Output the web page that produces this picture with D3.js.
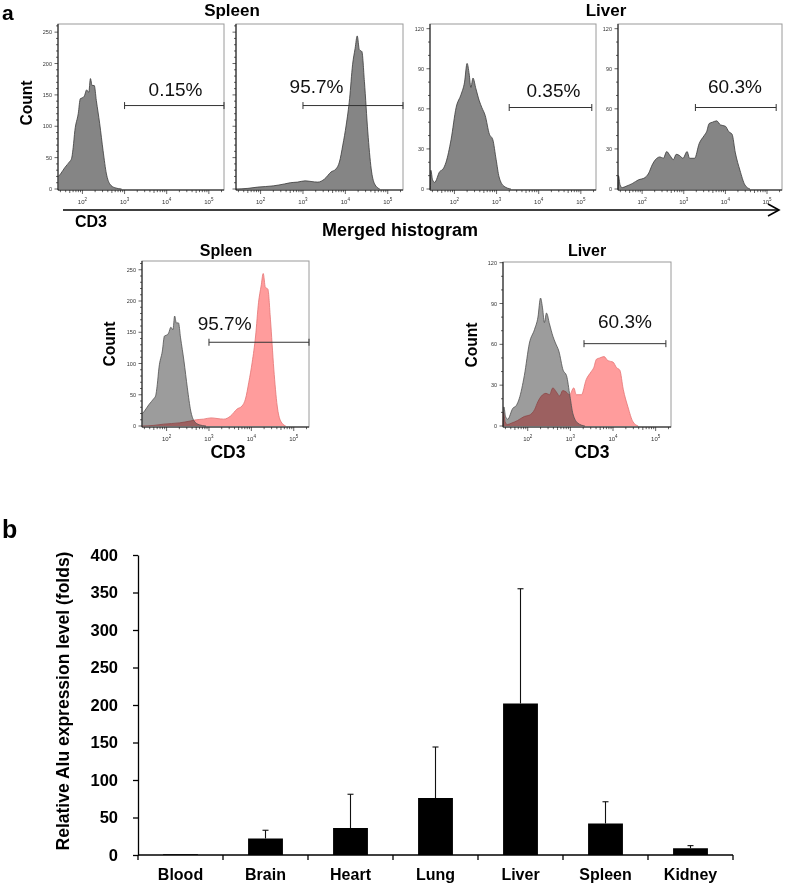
<!DOCTYPE html>
<html><head><meta charset="utf-8">
<script src="https://cdn.jsdelivr.net/npm/d3@7"></script>
<style>body{margin:0;background:#fff}svg{display:block;font-family:"Liberation Sans",Arial,Helvetica,sans-serif}</style>
</head><body><script>
// ---------------- DATA ----------------
// Flow histograms: [log10(CD3 intensity), count]
const spleenIso = [[1.43,20],[1.48,24],[1.58,34],[1.70,44],[1.74,48],[1.78,66],[1.82,93],[1.90,120],[1.95,144],[2.02,146],[2.05,149],[2.10,158],[2.15,154],[2.19,176],[2.23,165],[2.28,165],[2.33,141],[2.41,104],[2.49,61],[2.57,24],[2.65,8],[2.77,2],[2.93,0]];
const spleenCD3 = [[1.42,0],[1.70,1],[1.93,3],[2.30,5],[2.56,8],[2.70,10],[2.87,11],[3.05,13],[3.19,12],[3.35,11],[3.51,16],[3.66,27],[3.78,32],[3.86,43],[3.94,70],[4.02,102],[4.10,144],[4.17,198],[4.23,224],[4.28,244],[4.33,222],[4.39,219],[4.45,171],[4.53,91],[4.61,32],[4.69,8],[4.81,0]];
const liverIso = [[1.43,0],[1.44,14],[1.48,7],[1.53,5],[1.65,13],[1.73,15],[1.80,20],[1.92,37],[2.04,61],[2.16,71],[2.24,80],[2.30,94],[2.35,86],[2.39,76],[2.44,83],[2.51,75],[2.59,66],[2.65,61],[2.73,55],[2.83,41],[2.91,37],[2.99,22],[3.06,9],[3.18,2],[3.34,0]];
const liverCD3 = [[1.42,0],[1.43,10],[1.47,3],[1.52,1],[1.61,2],[1.76,4],[1.92,7],[2.04,8],[2.16,12],[2.24,18],[2.32,22],[2.43,24],[2.51,23],[2.59,28],[2.67,25],[2.75,22],[2.82,26],[2.90,25],[2.98,23],[3.08,28],[3.14,23],[3.26,23],[3.37,34],[3.49,40],[3.55,43],[3.61,49],[3.69,50],[3.79,51],[3.88,48],[4.00,47],[4.08,43],[4.16,41],[4.24,27],[4.35,14],[4.47,3],[4.59,0]];

const decadeTicks = [2, 3, 4, 5];
const spleenCountTicks = [0, 50, 100, 150, 200, 250];
const liverCountTicks = [0, 30, 60, 90, 120];

const gatePct = ["0.15%", "95.7%", "0.35%", "60.3%", "95.7%", "60.3%"];
const gateStart = [3.0, 3.0, 3.3, 3.28, 3.0, 3.32];
const gateEnd = [5.36, 5.36, 5.26, 5.22, 5.36, 5.24];
const gateCount = [133, 133, 61, 61, 134, 60.5];
const pctLabelX = [4.21, 3.32, 4.35, 4.23, 3.37, 4.28];

// Bar chart
const organs = ["Blood", "Brain", "Heart", "Lung", "Liver", "Spleen", "Kidney"];
const aluMean = [1, 22, 36, 76, 202, 42, 9];
const aluErr = [0, 11, 45, 68, 153, 29, 3.5];
const aluTicks = [0, 50, 100, 150, 200, 250, 300, 350, 400];

// ---------------- DRAW ----------------
const svg = d3.select("body").append("svg").attr("width", 786).attr("height", 884);

const GRAY = {fill: "#858585", stroke: "#3a3a3a"};
const MGRAY = {fill: "#9c9c9c", stroke: "#505050", blend: "multiply"};
const MRED = {fill: "#ff9c9c", stroke: "#e57373"};

function histPanel(cfg) {
  const {x0, x1, y0, y1, yMax, yTicks, minorStep, showYLabels, series, gi, pctDy} = cfg;
  const g = svg.append("g");
  const x = d3.scaleLinear().domain([1.42, 5.36]).range([x0, x1]);
  const y = d3.scaleLinear().domain([0, yMax]).range([y1 - 1, y0]);
  g.append("rect").attr("x", x0).attr("y", y0).attr("width", x1 - x0).attr("height", y1 - y0)
    .attr("fill", "none").attr("stroke", "#9a9a9a").attr("stroke-width", 1);
  const area = d3.area().x(d => x(d[0])).y0(y(0)).y1(d => y(d[1])).curve(d3.curveMonotoneX);
  const line = d3.line().x(d => x(d[0])).y(d => y(d[1])).curve(d3.curveMonotoneX);
  series.forEach(s => {
    const p = g.append("path").datum(s.data).attr("d", area).attr("fill", s.style.fill);
    if (s.style.blend) p.style("mix-blend-mode", s.style.blend);
    g.append("path").datum(s.data).attr("d", line).attr("fill", "none")
      .attr("stroke", s.style.stroke).attr("stroke-width", 0.8);
  });
  g.append("line").attr("x1", x0).attr("x2", x1).attr("y1", y1).attr("y2", y1).attr("stroke", "#111").attr("stroke-width", 1);
  g.append("line").attr("x1", x0).attr("x2", x0).attr("y1", y0).attr("y2", y1).attr("stroke", "#111").attr("stroke-width", 1);
  for (let k = 1; k <= 5; k++) {
    for (let m = 1; m <= 9; m++) {
      const v = k + Math.log10(m);
      if (v < 1.42 || v > 5.36) continue;
      const len = m === 1 ? 4 : (m === 5 ? 3 : 2.2);
      g.append("line").attr("x1", x(v)).attr("x2", x(v)).attr("y1", y1).attr("y2", y1 + len)
        .attr("stroke", "#222").attr("stroke-width", 0.7);
    }
  }
  decadeTicks.forEach(k => {
    const t = g.append("text").attr("x", x(k)).attr("y", y1 + 14).attr("text-anchor", "middle")
      .attr("font-size", 6).attr("fill", "#333");
    t.append("tspan").text("10");
    t.append("tspan").attr("dy", -2.6).attr("font-size", 4.5).text(k);
  });
  for (let v = 0; v <= yMax + 0.01; v += minorStep) {
    const major = yTicks.includes(v);
    g.append("line").attr("x1", x0).attr("x2", x0 - (major ? 3.5 : 2)).attr("y1", y(v)).attr("y2", y(v))
      .attr("stroke", "#222").attr("stroke-width", 0.7);
  }
  if (showYLabels) {
    yTicks.forEach(v => {
      g.append("text").attr("x", x0 - 6).attr("y", y(v) + 2).attr("text-anchor", "end")
        .attr("font-size", 5.5).attr("fill", "#333").text(v);
    });
  }
  const gy = y(gateCount[gi]);
  g.append("line").attr("x1", x(gateStart[gi])).attr("x2", x(gateEnd[gi])).attr("y1", gy).attr("y2", gy)
    .attr("stroke", "#333").attr("stroke-width", 1);
  [gateStart[gi], gateEnd[gi]].forEach(v => {
    g.append("line").attr("x1", x(v)).attr("x2", x(v)).attr("y1", gy - 3.5).attr("y2", gy + 3.5)
      .attr("stroke", "#333").attr("stroke-width", 1);
  });
  g.append("text").attr("x", x(pctLabelX[gi])).attr("y", gy + pctDy).attr("text-anchor", "middle")
    .attr("font-size", 19).attr("fill", "#111").text(gatePct[gi]);
  return g;
}

histPanel({x0: 58, x1: 224, y0: 24, y1: 190, yMax: 263, yTicks: spleenCountTicks, minorStep: 10, showYLabels: true,
  series: [{data: spleenIso, style: GRAY}], gi: 0, pctDy: -10});
histPanel({x0: 236, x1: 403, y0: 24, y1: 190, yMax: 263, yTicks: spleenCountTicks, minorStep: 10, showYLabels: false,
  series: [{data: spleenCD3, style: GRAY}], gi: 1, pctDy: -13});
histPanel({x0: 430, x1: 596, y0: 24, y1: 190, yMax: 123.5, yTicks: liverCountTicks, minorStep: 10, showYLabels: true,
  series: [{data: liverIso, style: GRAY}], gi: 2, pctDy: -11});
histPanel({x0: 618, x1: 782, y0: 24, y1: 190, yMax: 123.5, yTicks: liverCountTicks, minorStep: 10, showYLabels: true,
  series: [{data: liverCD3, style: GRAY}], gi: 3, pctDy: -15});
histPanel({x0: 142, x1: 309, y0: 261, y1: 427, yMax: 264, yTicks: spleenCountTicks, minorStep: 10, showYLabels: true,
  series: [{data: spleenCD3, style: MRED}, {data: spleenIso, style: MGRAY}], gi: 4, pctDy: -12});
histPanel({x0: 503, x1: 671, y0: 262, y1: 427, yMax: 120.5, yTicks: liverCountTicks, minorStep: 10, showYLabels: true,
  series: [{data: liverCD3, style: MRED}, {data: liverIso, style: MGRAY}], gi: 5, pctDy: -16});

function txt(x, y, s, size, opts = {}) {
  const t = svg.append("text").attr("x", x).attr("y", y).attr("font-size", size)
    .attr("font-weight", opts.weight || "bold").attr("fill", "#000")
    .attr("text-anchor", opts.anchor || "middle").text(s);
  if (opts.rotate) t.attr("transform", `rotate(-90,${x},${y})`);
  return t;
}
txt(2, 20, "a", 21, {anchor: "start"});
txt(232, 16, "Spleen", 17);
txt(606, 16, "Liver", 17);
txt(32, 103, "Count", 15.6, {rotate: true});
txt(75, 227, "CD3", 16, {anchor: "start"});
txt(400, 236, "Merged histogram", 18);
svg.append("line").attr("x1", 63).attr("x2", 779).attr("y1", 210).attr("y2", 210).attr("stroke", "#000").attr("stroke-width", 1.6);
svg.append("path").attr("d", "M768,204 L779,210 L768,216").attr("fill", "none").attr("stroke", "#000").attr("stroke-width", 1.6);

txt(226, 256, "Spleen", 16);
txt(587, 256, "Liver", 16);
txt(115, 344, "Count", 15.6, {rotate: true});
txt(477, 345, "Count", 15.6, {rotate: true});
txt(228, 458, "CD3", 17.5);
txt(592, 458, "CD3", 17.5);

// ---------------- Panel b: bar chart ----------------
txt(2, 538, "b", 25, {anchor: "start"});
const bx = d3.scaleBand().domain(organs).range([138, 733]).paddingInner(0.59).paddingOuter(0.295);
const by = d3.scaleLinear().domain([0, 400]).range([855, 555]);
const bg = svg.append("g");
bg.selectAll("rect.bar").data(organs).join("rect").attr("class", "bar")
  .attr("x", d => bx(d)).attr("width", bx.bandwidth())
  .attr("y", (d, i) => by(aluMean[i])).attr("height", (d, i) => by(0) - by(aluMean[i]))
  .attr("fill", "#000");
organs.forEach((o, i) => {
  if (aluErr[i] <= 0) return;
  const cx = bx(o) + bx.bandwidth() / 2;
  const top = by(aluMean[i] + aluErr[i]);
  bg.append("line").attr("x1", cx).attr("x2", cx).attr("y1", by(aluMean[i])).attr("y2", top).attr("stroke", "#111").attr("stroke-width", 1.1);
  bg.append("line").attr("x1", cx - 3).attr("x2", cx + 3).attr("y1", top).attr("y2", top).attr("stroke", "#111").attr("stroke-width", 1.1);
});
const yAxis = bg.append("g").attr("transform", "translate(138,0)")
  .call(d3.axisLeft(by).tickValues(aluTicks).tickSize(5).tickPadding(15).tickSizeOuter(0));
yAxis.selectAll("path,line").attr("stroke", "#000").attr("stroke-width", 1.3);
yAxis.selectAll("text").attr("font-size", 16.5).attr("font-weight", "bold").attr("fill", "#000")
  .attr("font-family", '"Liberation Sans",Arial,sans-serif');
bg.append("line").attr("x1", 138).attr("x2", 733).attr("y1", 855).attr("y2", 855).attr("stroke", "#000").attr("stroke-width", 1.3);
d3.range(organs.length + 1).forEach(i => {
  const xv = 138 + i * bx.step();
  bg.append("line").attr("x1", xv).attr("x2", xv).attr("y1", 855).attr("y2", 860).attr("stroke", "#000").attr("stroke-width", 1.3);
});
organs.forEach(o => txt(bx(o) + bx.bandwidth() / 2, 880, o, 16));
txt(69, 701, "Relative Alu expression level (folds)", 17.5, {rotate: true});
</script></body></html>
